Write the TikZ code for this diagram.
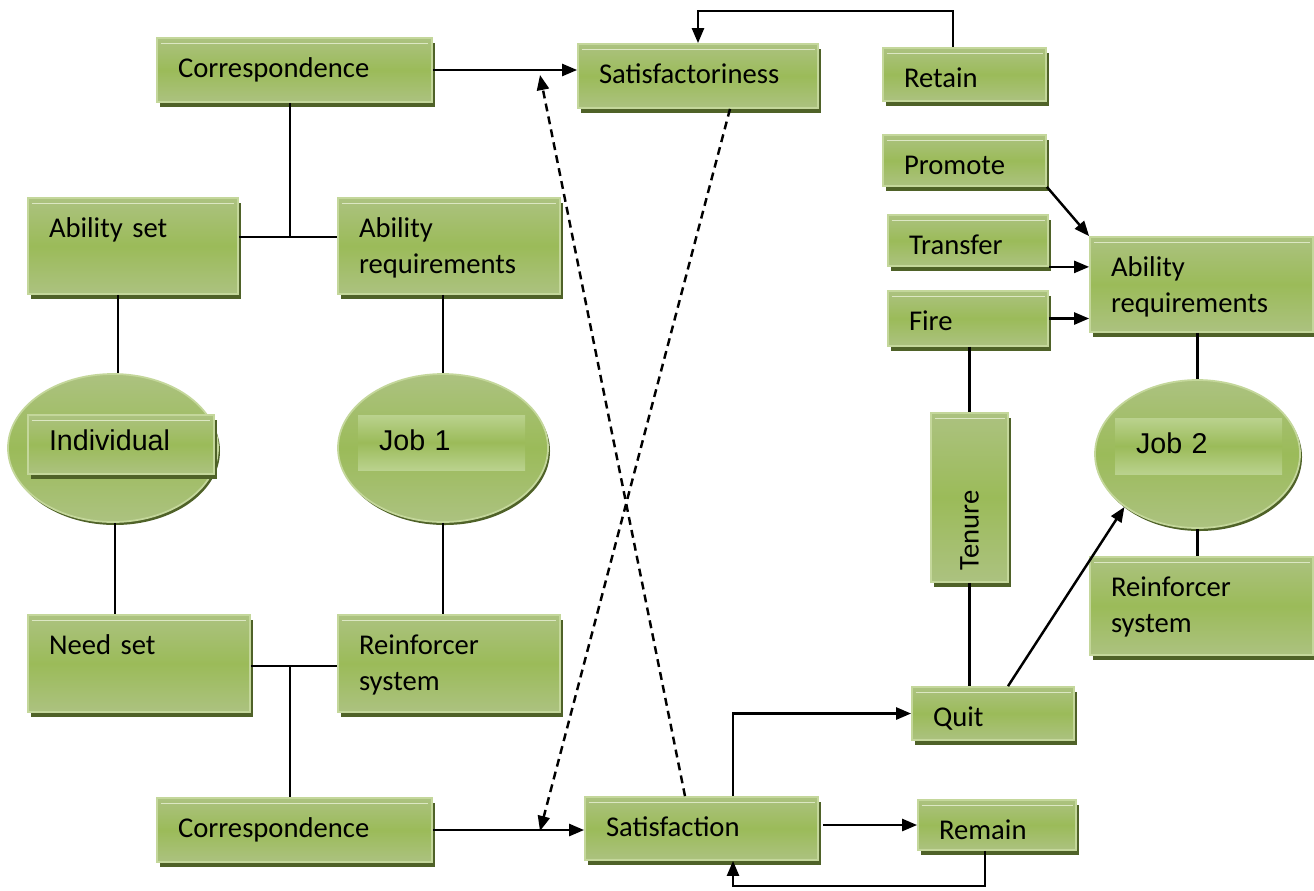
\documentclass[tikz,border=0pt]{standalone}
\usepackage{fontspec}
\setmainfont{Carlito}
\newfontfamily\arialfont{Liberation Sans}
\usetikzlibrary{shapes.geometric,shadows,arrows.meta}

\definecolor{gLight}{RGB}{172,194,128}
\definecolor{gPale}{RGB}{186,210,142}
\definecolor{gMid}{RGB}{155,187,89}
\definecolor{gEdge}{RGB}{196,215,155}
\definecolor{gShadow}{RGB}{79,98,40}

\begin{document}
\begin{tikzpicture}
%style for green boxes
\tikzstyle{box} = [rectangle, draw=gEdge, line width=1pt, top color=gLight, bottom color=gLight, middle color=gMid, drop shadow={shadow xshift=0.06cm, shadow yshift=-0.1cm, fill=gShadow, opacity=1}, align=left, inner xsep=0.42cm, inner ysep=0pt, text height=0.78cm, font=\fontsize{16.3}{20.5}\selectfont, path picture={\draw[gEdge!60!white, line width=0.8pt] ([xshift=2pt,yshift=-3pt]path picture bounding box.north west) -- ([xshift=-2pt,yshift=-3pt]path picture bounding box.north east);}]

%style for the ellipses
\tikzstyle{oval} = [ellipse, draw=gEdge, line width=1pt, top color=gLight, bottom color=gLight, middle color=gMid, drop shadow={shadow xshift=0.04cm, shadow yshift=-0.06cm, fill=gShadow, opacity=1}, inner sep=0pt]

%style for the labels inside the ellipses
\tikzstyle{lbl} = [box, text height=0.7cm, font=\arialfont\fontsize{16.3}{20}\selectfont]
\tikzstyle{band} = [rectangle, top color=gPale, bottom color=gPale, middle color=gMid, align=left, inner xsep=0.42cm, inner ysep=0pt, text height=0.7cm, font=\arialfont\fontsize{16.3}{20}\selectfont]

%style for lines
\tikzstyle{line} = [line width=1.4pt]
\tikzstyle{arr} = [line, -{Triangle[length=0.3cm,width=0.24cm]}]

\useasboundingbox (0,0) rectangle (26.28,-17.8);

%place nodes
\node[box, text width=4.66cm, text depth=0.50cm](corrTop) at (5.89,-1.40) {Correspondence};
\node[box, text width=3.96cm, text depth=0.50cm](satisTop) at (13.96,-1.52) {Satisfactoriness};
\node[box, text width=2.42cm, text depth=0.28cm](retain) at (19.29,-1.49) {Retain};
\node[box, text width=3.36cm, text depth=1.14cm](abilSet) at (2.66,-4.92) {Ability set};
\node[box, text width=3.60cm, text depth=1.14cm](abilReqA) at (8.98,-4.92) {Ability\\requirements};

\node[oval, minimum width=4.2cm, minimum height=2.96cm](indiv) at (2.26,-8.96) {};
\node[lbl, text width=2.88cm, text depth=0.48cm](indivLbl) at (2.42,-8.89) {Individual};
\node[oval, minimum width=4.2cm, minimum height=2.96cm](jobA) at (8.86,-8.96) {};
\node[band, text width=2.50cm, text depth=0.40cm](jobALbl) at (8.83,-8.85) {Job 1};

\node[box, text width=3.60cm, text depth=1.16cm](needSet) at (2.78,-13.27) {Need set};
\node[box, text width=3.60cm, text depth=1.16cm](reinfA) at (8.98,-13.27) {Reinforcer\\system};
\node[box, text width=4.66cm, text depth=0.50cm](corrBot) at (5.89,-16.60) {Correspondence};
\node[box, text width=3.82cm, text depth=0.48cm](satisf) at (14.03,-16.57) {Satisfaction};
\node[box, text width=2.32cm, text depth=0.22cm](remain) at (19.94,-16.50) {Remain};
\node[box, text width=2.40cm, text depth=0.28cm](quit) at (19.86,-14.27) {Quit};

\node[box, text width=2.42cm, text depth=0.24cm](promote) at (19.29,-3.21) {Promote};
\node[box, text width=2.36cm, text depth=0.24cm](transfer) at (19.36,-4.81) {Transfer};
\node[box, text width=2.36cm, text depth=0.32cm](fire) at (19.36,-6.37) {Fire};
\node[box, inner xsep=0pt, minimum width=1.54cm, text height=3.14cm, text depth=0.24cm](tenure) at (19.39,-9.95) {\rotatebox{90}{\makebox[2.9cm][l]{Tenure}}};
\node[box, text width=3.62cm, text depth=1.12cm](abilReqB) at (24.03,-5.69) {Ability\\requirements};
\node[oval, minimum width=4.1cm, minimum height=2.96cm](jobB) at (23.95,-9.08) {};
\node[band, text width=2.50cm, text depth=0.42cm](jobBLbl) at (23.97,-8.92) {Job 2};
\node[box, text width=3.62cm, text depth=1.18cm](reinfB) at (24.03,-12.12) {Reinforcer\\system};

\coordinate (jTop) at (5.80,-4.74);
\coordinate (jBot) at (5.80,-13.32);
\coordinate (dashTop) at (10.80,-1.50);
\coordinate (dashBot) at (10.80,-16.62);

%connect nodes with lines
\draw[arr] (corrTop.east) -- (corrTop.east -| satisTop.west);
\draw[line] (corrTop.south -| jTop) -- (jTop);
\draw[line] (abilSet.east |- jTop) -- (abilReqA.west |- jTop);
\draw[line] ([xshift=0.1cm]abilSet.south -| indiv.north) -- ([xshift=0.1cm]indiv.north);
\draw[line] (abilReqA.south -| jobA.north) -- (jobA.north);
\draw[line] ([xshift=0.04cm]indiv.south) -- ([xshift=0.04cm]indiv.south |- needSet.north);
\draw[line] (jobA.south) -- (jobA.south |- reinfA.north);
\draw[line] (needSet.east |- jBot) -- (reinfA.west |- jBot);
\draw[line] (jBot) -- (jBot |- corrBot.north);
\draw[arr] (corrBot.east) -- (corrBot.east -| satisf.west);

\draw[arr] ([xshift=-0.23cm]retain.north) -- ++(0,0.72) -| (satisTop.north);
\draw[arr, dash pattern=on 4.5pt off 3pt] ([xshift=-0.33cm]satisf.north) -- (dashTop);
\draw[arr, dash pattern=on 4.5pt off 3pt] ([xshift=0.64cm]satisTop.south) -- (dashBot);

\draw[arr] ([xshift=0.63cm]satisf.north) |- (quit.west);
\draw[arr] ([xshift=0.08cm]satisf.east |- remain.west) -- (remain.west);
\draw[arr] ([xshift=-0.24cm]remain.south) -- ++(0,-0.7) -| ([xshift=0.63cm]satisf.south);

\draw[arr] (promote.south east) -- (abilReqB.north west);
\draw[arr] (transfer.south east) -- (transfer.south east -| abilReqB.west);
\draw[arr] (fire.east) -- (fire.east -| abilReqB.west);
\draw[line] (fire.south -| tenure.north) -- (tenure.north);
\draw[line] (tenure.south) -- (tenure.south |- quit.north);
\draw[arr] ([xshift=0.3cm]quit.north) -- (jobB.south west);
\draw[line] (abilReqB.south -| jobB.north) -- (jobB.north);
\draw[line] (jobB.south) -- (jobB.south |- reinfB.north);
\end{tikzpicture}
\end{document}
